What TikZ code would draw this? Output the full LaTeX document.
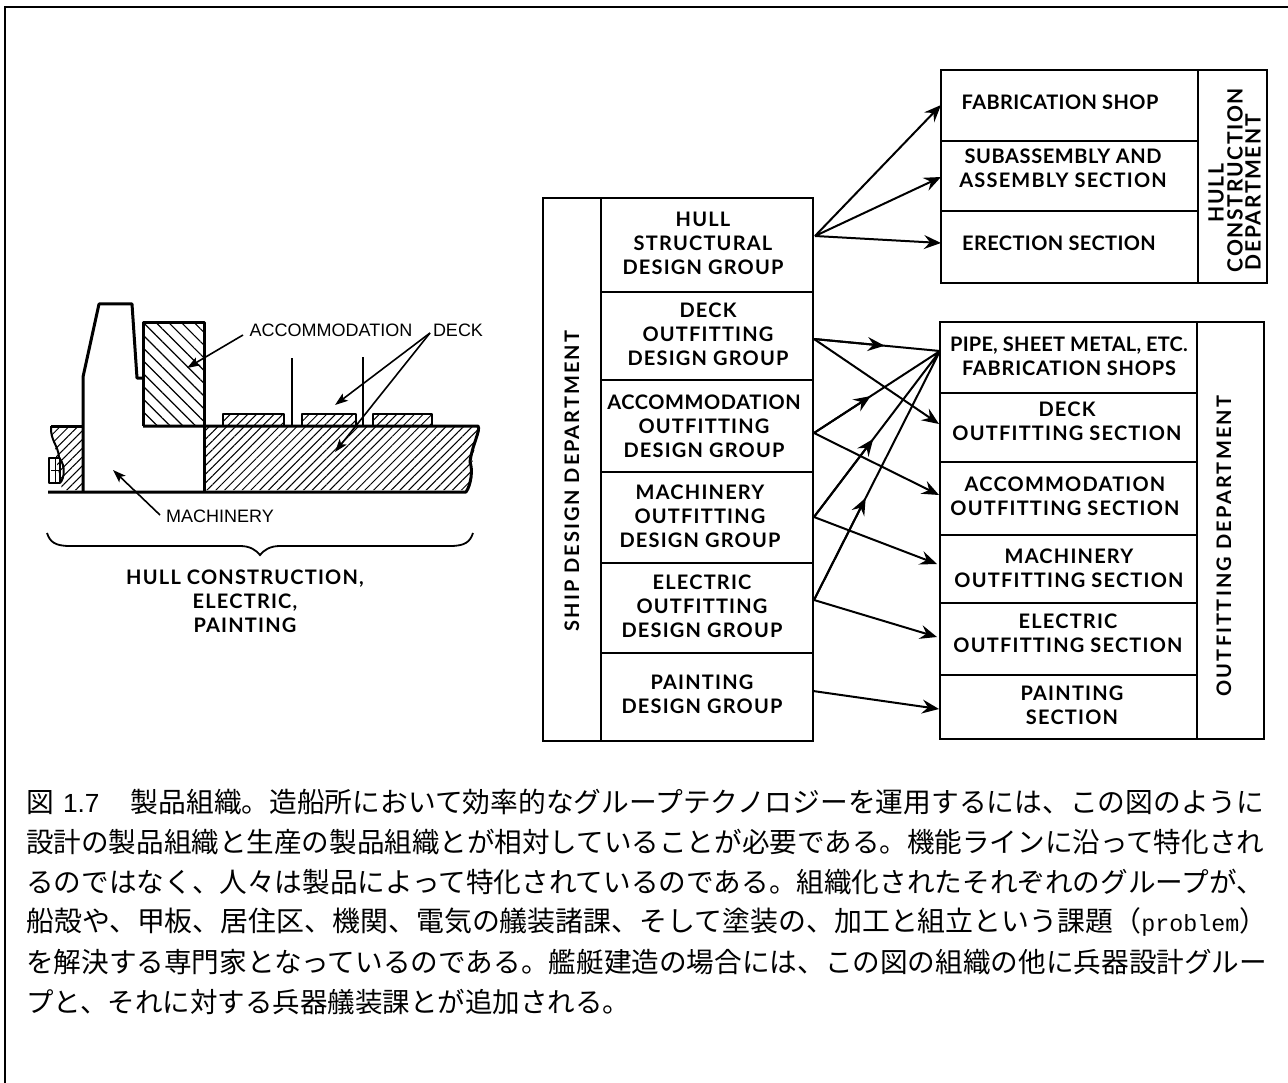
\documentclass[tikz,border=0pt]{standalone}
\usepackage{fontspec}
\usepackage{graphicx}
\usetikzlibrary{arrows.meta,patterns.meta,calc}
\setmainfont{Lato}[BoldFont={Lato Bold}]
\newfontfamily\cjk{Noto Sans CJK JP}
\newfontfamily\lab{Liberation Sans}
\newfontfamily\cm{Liberation Mono}
\newcommand{\ls}[1]{\addfontfeatures{LetterSpace=#1}}
\tikzset{
  cell/.style={draw,line width=2pt,inner sep=0pt},
  txt/.style={inner sep=0pt,align=center,font=\bfseries\fontsize{20}{24}\selectfont\ls{6}},
  link/.style={line width=2pt,-{Stealth[length=17pt,width=14pt,inset=6pt]}},
  plain/.style={line width=2pt},
  shipline/.style={line width=2pt,line join=round},
  ship/.style={line width=3pt,line join=round},
  call/.style={line width=1.6pt,-{Stealth[length=13pt,width=9pt,inset=3pt]}},
  small/.style={font=\lab\fontsize{18}{22}\selectfont,inner sep=0pt},
  capt/.style={anchor=west,inner sep=0pt,font=\cjk\fontsize{27.5}{32}\selectfont},
}
\newcommand{\cellbox}[5]{% name x0 y0 x1 y1
  \node[cell,minimum width=#4pt-#2pt,minimum height=#5pt-#3pt] (#1) at ({(#2+#4)/2},{(#3+#5)/2}) {};}
% name, x, y, leading, text
\newcommand{\lbl}[5]{\node[txt] (#1) at (#2,#3) {\fontsize{20}{#4}\selectfont #5};}
\begin{document}
\begin{tikzpicture}[x=1pt,y=-1pt]
\useasboundingbox (0,0) rectangle (1288,1083);
\draw[line width=2.5pt] (5,1083) -- (5,7) -- (1288,7);

% ---- ship sketch
\fill[pattern={Lines[angle=45,distance=6.2pt,line width=1pt]}] (50,427) .. controls (52,445) and (58,450) .. (56,458) -- (62,490) -- (83,490) -- (83,427) -- cycle;
\fill[pattern={Lines[angle=45,distance=6.2pt,line width=1pt]}] (204,427) -- (478,427) -- (468,490) -- (204,490) -- cycle;
\fill[pattern={Lines[angle=-45,distance=9pt,line width=1.2pt]}] (143,323) rectangle (204,426);
\foreach \a/\b in {223/284,302/356,373/432}
  \fill[pattern={Lines[angle=45,distance=6.2pt,line width=1pt]}] (\a,414) rectangle (\b,426);
\draw[ship] (83,492) -- (83,377) -- (99,304) -- (132,304) -- (137,378) -- (143,378);
\draw[ship] (143,426) -- (143,323) -- (204,323) -- (204,492);
\draw[ship] (51,426) -- (83,426);
\draw[ship] (143,426) -- (478,426) .. controls (481,430) and (472,445) .. (470,462) .. controls (473,470) and (471,485) .. (466,492) -- (48,492);
\draw[shipline] (51,426) .. controls (50,440) and (58,445) .. (59,457);
\draw[shipline] (49,458) rectangle (60,483);
\draw[line width=1pt] (51,470) -- (60,470) (55,458) -- (55,483);
\draw[shipline] (60,459) .. controls (65,465) and (65,478) .. (60,483);
\draw[shipline] (223,426) -- (223,414) -- (284,414) -- (284,426);
\draw[shipline] (302,426) -- (302,414) -- (356,414) -- (356,426);
\draw[shipline] (373,426) -- (373,414) -- (432,414) -- (432,426);
\draw[shipline] (292,358) -- (292,426);
\draw[shipline] (363,357) -- (363,426);

\node[small] (acc) at (331,330) {ACCOMMODATION};
\node[small] (dk) at (458,330) {DECK};
\node[small] (mach) at (220,516) {MACHINERY};
\coordinate (accT) at (187,368);
\coordinate (dkT1) at (335,405);
\coordinate (dkT2) at (335,452);
\coordinate (machT) at (113,470);
\coordinate (accS) at (243,335);
\coordinate (dkS) at (430,333);
\coordinate (machS) at (160,515);
\draw[call] (accS) -- (accT);
\draw[call] (dkS) -- (dkT1);
\draw[call] (dkS) -- (dkT2);
\draw[call] (machS) -- (machT);

\draw[line width=1.8pt] (47,533) .. controls (50,542) and (55,546) .. (70,546) -- (240,546) .. controls (250,546) and (256,550) .. (260,555)
  .. controls (264,550) and (270,546) .. (280,546) -- (450,546) .. controls (465,546) and (470,542) .. (473,533);
\lbl{hcep}{245}{601}{24}{HULL CONSTRUCTION,\\ELECTRIC,\\PAINTING}

% ---- ship design department
\cellbox{sd}{543}{198}{601}{741}
\cellbox{g1}{601}{198}{813}{292}
\cellbox{g2}{601}{292}{813}{380}
\cellbox{g3}{601}{380}{813}{472}
\cellbox{g4}{601}{472}{813}{563}
\cellbox{g5}{601}{563}{813}{653}
\cellbox{g6}{601}{653}{813}{741}
\node[txt,rotate=90] (sdt) at (572,481) {\ls{10}SHIP DESIGN DEPARTMENT};
\lbl{g1t}{703}{243}{24}{HULL\\STRUCTURAL\\DESIGN GROUP}
\lbl{g2t}{708}{334}{23}{DECK\\OUTFITTING\\DESIGN GROUP}
\lbl{g3t}{704}{426}{24}{\ls{3}ACCOMMODATION\\OUTFITTING\\DESIGN GROUP}
\lbl{g4t}{700}{516.5}{23.5}{MACHINERY\\OUTFITTING\\DESIGN GROUP}
\lbl{g5t}{702}{606.5}{23.5}{ELECTRIC\\OUTFITTING\\DESIGN GROUP}
\lbl{g6t}{702}{694}{24}{PAINTING\\DESIGN GROUP}

% ---- hull construction department
\cellbox{h1}{941}{70}{1198}{141}
\cellbox{h2}{941}{141}{1198}{211}
\cellbox{h3}{941}{211}{1198}{283}
\cellbox{hd}{1198}{70}{1267}{283}
\lbl{h1t}{1060}{102}{24}{\ls{2}FABRICATION SHOP}
\lbl{h2t}{1063}{168}{20.5}{\ls{3}SUBASSEMBLY AND\\ASSEMBLY SECTION}
\lbl{h3t}{1059}{243}{24}{\ls{2}ERECTION SECTION}
\node[txt,rotate=90,font=\bfseries\fontsize{21}{24}\selectfont\ls{8}] (hd1) at (1216,193) {HULL};
\node[txt,rotate=90,font=\bfseries\fontsize{21}{24}\selectfont\ls{8}] (hd2) at (1235,180) {CONSTRUCTION};
\node[txt,rotate=90,font=\bfseries\fontsize{21}{24}\selectfont\ls{8}] (hd3) at (1253,192) {DEPARTMENT};

% ---- outfitting department
\cellbox{o1}{940}{322}{1197}{393}
\cellbox{o2}{940}{393}{1197}{462}
\cellbox{o3}{940}{462}{1197}{535}
\cellbox{o4}{940}{535}{1197}{603}
\cellbox{o5}{940}{603}{1197}{675}
\cellbox{o6}{940}{675}{1197}{739}
\cellbox{od}{1197}{322}{1264}{739}
\lbl{o1t}{1069}{356.5}{27}{\ls{1}PIPE, SHEET METAL, ETC.\\\ls{4}FABRICATION SHOPS}
\lbl{o2t}{1067}{421.5}{21.5}{DECK\\OUTFITTING SECTION}
\lbl{o3t}{1065}{496.5}{21.5}{ACCOMMODATION\\OUTFITTING SECTION}
\lbl{o4t}{1069}{568}{22}{MACHINERY\\OUTFITTING SECTION}
\lbl{o5t}{1068}{633}{21.5}{ELECTRIC\\OUTFITTING SECTION}
\lbl{o6t}{1072}{705}{21}{PAINTING\\SECTION}
\node[txt,rotate=90] (odt) at (1224,546) {\ls{11}OUTFITTING DEPARTMENT};

% ---- connector ends
\coordinate (s1) at (815,236);
\coordinate (s2) at (814,339);
\coordinate (s3) at (814,433);
\coordinate (s4) at (814,517);
\coordinate (s5) at (814,600);
\coordinate (s6) at (813,691);
\coordinate (t1) at (941,105);
\coordinate (t2) at (941,177);
\coordinate (t3) at (941,243);
\coordinate (pipe) at (940,351);
\coordinate (t4) at (939,424);
\coordinate (t5) at (939,495);
\coordinate (t6) at (937,564);
\coordinate (t7) at (937,637);
\coordinate (t8) at (939,709);

\draw[link] (s1) -- (t1);
\draw[link] (s1) -- (t2);
\draw[link] (s1) -- (t3);
\draw[link] (s2) -- (t4);
\draw[link] (s3) -- (t5);
\draw[link] (s4) -- (t6);
\draw[link] (s5) -- (t7);
\draw[link] (s6) -- (t8);
\draw[plain] (s2) -- (pipe) (s3) -- (pipe) (s4) -- (pipe) (s5) -- (pipe);
\draw[link] (s2) -- ($(s2)!0.56!(pipe)$);
\draw[link] (s3) -- ($(s3)!0.45!(pipe)$);
\draw[link] (s4) -- ($(s4)!0.47!(pipe)$);
\draw[link] (s5) -- ($(s5)!0.41!(pipe)$);

% ---- caption
\node[capt] (c1) at (26,802) {\resizebox{1238pt}{!}{図\hspace{9pt}{\lab\fontsize{26}{30}\selectfont 1.7}\hspace{31pt}製品組織。造船所において効率的なグループテクノロジーを運用するには、この図のように}};
\node[capt] (c2) at (26,842) {\resizebox{1238pt}{!}{設計の製品組織と生産の製品組織とが相対していることが必要である。機能ラインに沿って特化され}};
\node[capt] (c3) at (26,882) {\resizebox{1238pt}{!}{るのではなく、人々は製品によって特化されているのである。組織化されたそれぞれのグループが、}};
\node[capt] (c4) at (26,922) {\resizebox{1241pt}{!}{船殻や、甲板、居住区、機関、電気の艤装諸課、そして塗装の、加工と組立という課題（{\cm\fontsize{23}{26}\selectfont problem}）}};
\node[capt] (c5) at (26,962) {\resizebox{1241pt}{!}{を解決する専門家となっているのである。艦艇建造の場合には、この図の組織の他に兵器設計グルー}};
\node[capt] (c6) at (26,1002) {プと、それに対する兵器艤装課とが追加される。};
\end{tikzpicture}
\end{document}
